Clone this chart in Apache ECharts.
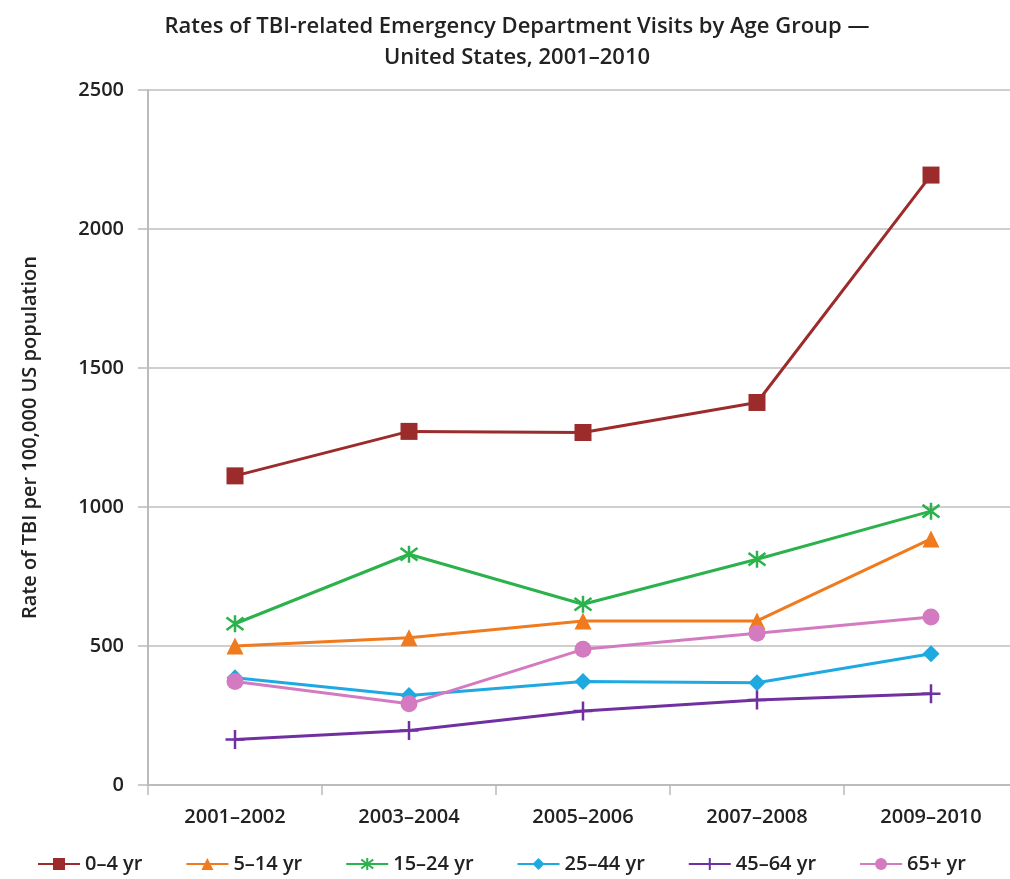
<!DOCTYPE html>
<html><head><meta charset="utf-8">
<script src="https://cdn.jsdelivr.net/npm/echarts@6/dist/echarts.min.js"></script>
<style>html,body{margin:0;padding:0;background:#fff;overflow:hidden}#c{width:1030px;height:879px}</style>
</head><body><div id="c"></div>
<script>
const categories = ['2001–2002','2003–2004','2005–2006','2007–2008','2009–2010'];
const seriesNames = ['0–4 yr','5–14 yr','15–24 yr','25–44 yr','45–64 yr','65+ yr'];
const age0_4   = [1112, 1272, 1268, 1376, 2194];
const age5_14  = [500, 530, 590, 590, 885];
const age15_24 = [580, 830, 650, 812, 985];
const age25_44 = [386, 322, 372, 368, 472];
const age45_64 = [164, 196, 266, 306, 328];
const age65    = [372, 292, 488, 546, 604];
const yTicks = [0, 500, 1000, 1500, 2000, 2500];

const colors = ['#9c2b2b','#f07a1e','#2bb24c','#1ea9e1','#7030a0','#d47ac0'];
const symbols = [
  'rect','triangle',
  'path://M-1,-1L1,1M-1,1L1,-1M0,-1.35L0,1.35',
  'diamond',
  'path://M0,-1L0,1M-1,0L1,0',
  'circle'
];
const dataSets = [age0_4, age5_14, age15_24, age25_44, age45_64, age65];
const font = "'Open Sans',sans-serif";

const chart = echarts.init(document.getElementById('c'));
chart.setOption({
  animation:false,
  title:{
    text:'Rates of TBI-related Emergency Department Visits by Age Group —\nUnited States, 2001–2010',
    left:512, top:6, textAlign:'center',
    textStyle:{fontFamily:font, fontSize:22, fontWeight:600, color:'#222', lineHeight:31}
  },
  legend:{
    bottom:0, left:32, itemGap:43, itemWidth:42, itemHeight:15,
    textStyle:{fontFamily:font, fontSize:20, fontWeight:600, color:'#222'},
    data: seriesNames
  },
  grid:{left:148, top:90, width:870, height:695, containLabel:false},
  xAxis:{
    type:'category', data:categories, boundaryGap:true,
    axisLine:{lineStyle:{color:'#bbb', width:2}},
    axisTick:{show:true, length:10, lineStyle:{color:'#bbb', width:1.5}},
    axisLabel:{fontFamily:font, fontSize:20, fontWeight:600, color:'#222', margin:22}
  },
  yAxis:{
    type:'value', min:0, max:2500, interval:500,
    name:'Rate of TBI per 100,000 US population', nameLocation:'middle', nameGap:108,
    nameTextStyle:{fontFamily:font, fontSize:20, color:'#222', fontWeight:600},
    axisLine:{show:true, lineStyle:{color:'#bbb', width:2}},
    axisTick:{show:true, length:10, lineStyle:{color:'#bbb', width:1.5}},
    axisLabel:{fontFamily:font, fontSize:20, fontWeight:600, color:'#222', margin:24,
      formatter:v=> yTicks.includes(v) ? String(v) : ''},
    splitLine:{lineStyle:{color:'#cfcfcf', width:2}}
  },
  series: seriesNames.map((n,i)=>({
    name:n, type:'line', data:dataSets[i],
    symbol:symbols[i],
    symbolSize: i===4 ? 19 : 17,
    showAllSymbol:true,
    lineStyle:{color:colors[i], width:3},
    itemStyle:{color:colors[i], borderColor:colors[i], borderWidth:(i===2||i===4)?2.5:0}
  }))
});
</script></body></html>
